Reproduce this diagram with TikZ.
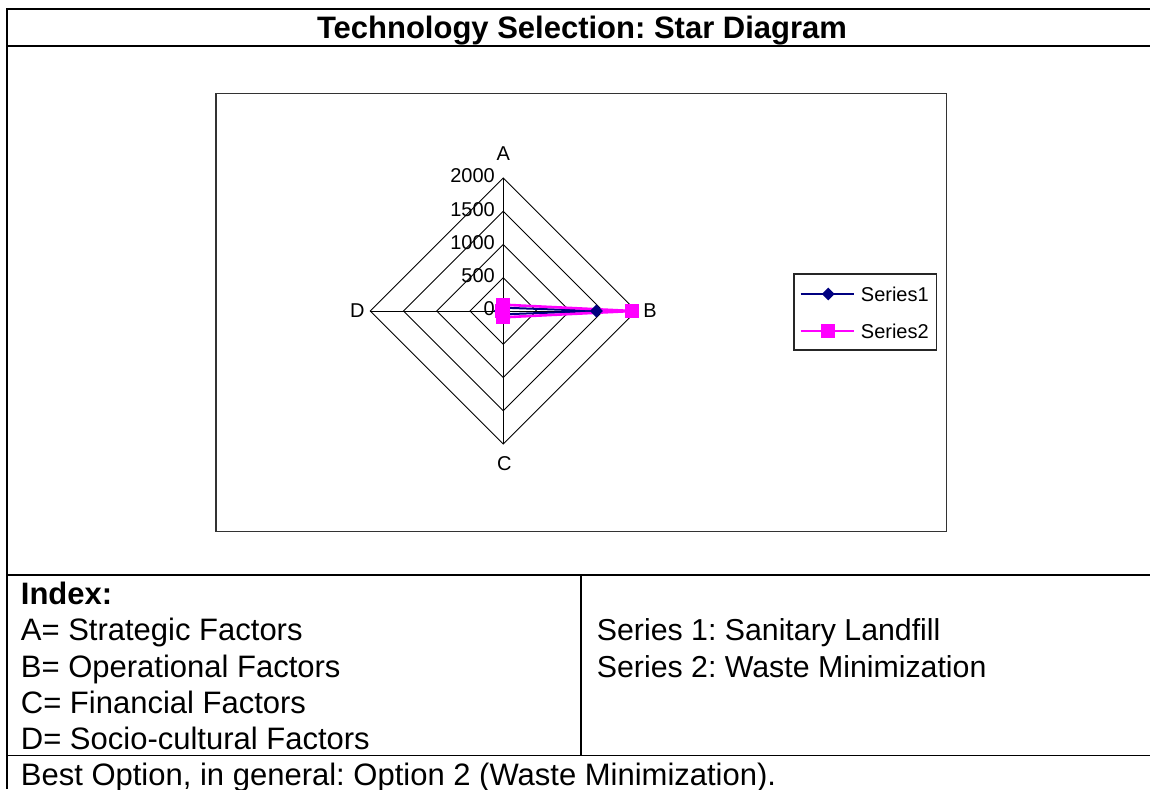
\documentclass[tikz,border=0pt]{standalone}
\usepackage{fontspec}
\setmainfont{Liberation Sans}
\usetikzlibrary{shapes.geometric}

\definecolor{navyser}{RGB}{0,0,128}
\definecolor{magser}{RGB}{255,0,255}
\newcommand\chartfont{\fontsize{20}{24}\selectfont}
\newcommand\bodyfont{\fontsize{31}{36}\selectfont}
\newcommand\serfont{\fontsize{30.3}{36}\selectfont}
\newcommand\headfont{\fontsize{31}{36}\selectfont\bfseries}

\begin{document}
\frenchspacing
\begin{tikzpicture}[x=1pt,y=-1pt,
  frame/.style={line width=2pt, black},
  rule/.style={line width=1.6pt, black},
  thinrule/.style={line width=1.1pt, black},
  gridline/.style={line width=0.9pt, black},
  ticklbl/.style={font=\chartfont, anchor=east, inner sep=0pt},
  axislbl/.style={font=\chartfont, inner sep=0pt},
  bodytext/.style={font=\bodyfont, anchor=base west, inner sep=0pt},
  s1line/.style={navyser, line width=2pt},
  s2line/.style={magser, line width=2.6pt},
  s1mark/.style={diamond, fill=navyser, inner sep=0pt, minimum width=13pt, minimum height=13pt},
  s2mark/.style={rectangle, fill=magser, inner sep=0pt, minimum size=14pt},
]
\useasboundingbox (0,0) rectangle (1150,789);

% ---- table frame ----
\draw[frame] (7,789) -- (7,9) -- (1150,9);
\draw[frame] (7,46.5) -- (1150,46.5);
\draw[rule] (7,575) -- (1150,575);
\draw[rule] (580.7,575) -- (580.7,755.5);
\draw[thinrule] (7,755.5) -- (1150,755.5);

\node[font=\headfont, anchor=base, inner sep=0pt] (title) at (582,39) {Technology Selection: Star Diagram};

% ---- chart area ----
\draw[line width=1.3pt, black!80] (216,93.3) rectangle (946.8,531.3);

% radar grid: centre and radius of the 2000 ring
\def\cx{503.3}
\def\cy{311}
\def\R{133}
\coordinate (O) at (\cx,\cy);
\foreach \k in {1,2,3,4} {
  \draw[gridline] ({\cx},{\cy-\k*\R/4}) -- ({\cx+\k*\R/4},{\cy}) -- ({\cx},{\cy+\k*\R/4}) -- ({\cx-\k*\R/4},{\cy}) -- cycle;
}
\coordinate (axA) at (\cx,{\cy-\R});
\coordinate (axB) at ({\cx+\R},\cy);
\coordinate (axC) at (\cx,{\cy+\R});
\coordinate (axD) at ({\cx-\R},\cy);
\draw[gridline] (axA) -- (axC);
\draw[gridline] (axD) -- (axB);

% scale labels along axis A
\foreach \v/\nm in {0/t0,500/t500,1000/t1000,1500/t1500,2000/t2000} {
  \node[ticklbl] (\nm) at (495,{\cy-\v/2000*\R-2}) {\v};
}

% axis labels
\node[axislbl] (lblA) at (503.3,153.3) {A};
\node[axislbl] (lblB) at (650,311) {B};
\node[axislbl] (lblC) at (504.3,463.3) {C};
\node[axislbl] (lblD) at (357.3,311) {D};

% data points (value/2000 of the outer radius)
\coordinate (p1A) at (\cx,{\cy-50/2000*\R});
\coordinate (p1B) at ({\cx+1400/2000*\R},\cy);
\coordinate (p1C) at (\cx,{\cy+50/2000*\R});
\coordinate (p1D) at ({\cx-50/2000*\R},\cy);
\coordinate (p2A) at (\cx,{\cy-95/2000*\R});
\coordinate (p2B) at ({\cx+1940/2000*\R},\cy);
\coordinate (p2C) at (\cx,{\cy+95/2000*\R});
\coordinate (p2D) at ({\cx-25/2000*\R},\cy);

\draw[s1line, line join=round] (p1A) -- (p1B) -- (p1C) -- (p1D) -- cycle;
\draw[s2line, line join=round] (p2A) -- (p2B) -- (p2C) -- (p2D) -- cycle;
\foreach \p in {A,B,C,D} { \node[s1mark] (m1\p) at (p1\p) {}; }
\foreach \p in {A,B,C,D} { \node[s2mark] (m2\p) at (p2\p) {}; }

% legend
\draw[line width=1.1pt, black!85] (794,274) rectangle (936.7,350);
\coordinate (l1a) at (800.7,294);
\coordinate (l1b) at (854,294);
\coordinate (l2a) at (800.7,331);
\coordinate (l2b) at (854,331);
\draw[s1line] (l1a) -- (l1b);
\draw[s2line, line width=2pt] (l2a) -- (l2b);
\node[s1mark] (lm1) at (828.3,294) {};
\node[s2mark] (lm2) at (828.3,331) {};
\node[font=\chartfont, anchor=west, inner sep=0pt] (leg1) at (860.7,294) {Series1};
\node[font=\chartfont, anchor=west, inner sep=0pt] (leg2) at (860.7,331) {Series2};

% ---- index ----
\node[bodytext, font=\bodyfont\bfseries] (idx) at (20.7,604) {Index:};
\node[bodytext] (iA) at (20.7,640.5) {A= Strategic Factors};
\node[bodytext] (iB) at (20.7,677) {B= Operational Factors};
\node[bodytext] (iC) at (20.7,713) {C= Financial Factors};
\node[bodytext] (iD) at (20.7,749.5) {D= Socio-cultural Factors};

\node[bodytext, font=\serfont] (s1) at (596.7,640.5) {Series 1: Sanitary Landfill};
\node[bodytext, font=\serfont] (s2) at (596.7,677) {Series 2: Waste Minimization};

\node[bodytext] (best) at (20.7,785.5) {Best Option, in general: Option 2 (Waste Minimization).};
\end{tikzpicture}
\end{document}
